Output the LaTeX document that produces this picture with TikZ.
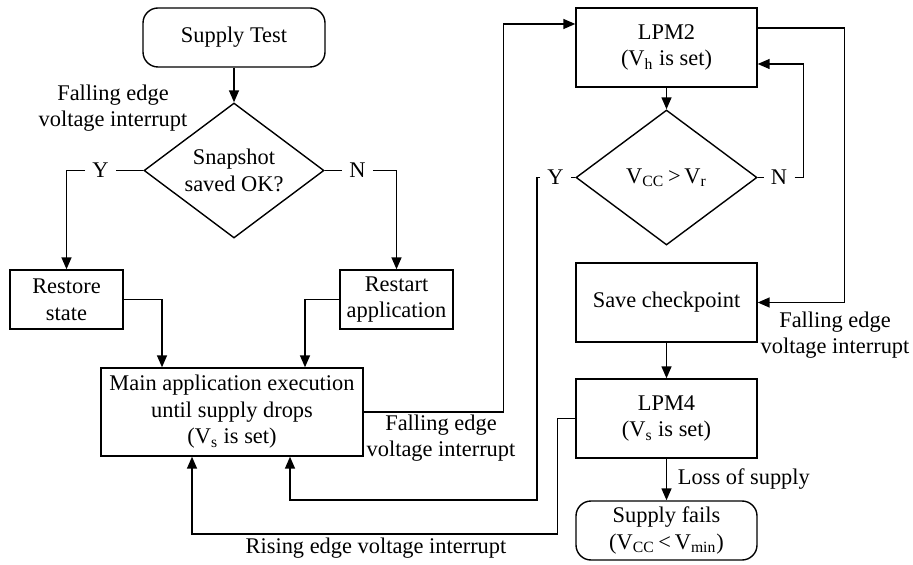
\documentclass[tikz,border=0pt]{standalone}
\usepackage{fontspec}
\setmainfont{Liberation Serif}
\usetikzlibrary{shapes.geometric,arrows.meta}

\begin{document}
\begin{tikzpicture}[x=0.5pt,y=-0.5pt,
    every node/.style={font=\fontsize{11.2}{13.3}\selectfont},
    box/.style={draw, line width=0.7pt, align=center, inner sep=2pt},
    term/.style={box, rounded corners=7.5pt, minimum width=90.5pt, minimum height=29.5pt},
    small/.style={box, minimum width=56.5pt, minimum height=29.5pt},
    lpm/.style={box, minimum width=90.5pt, minimum height=39.5pt},
    decision/.style={draw, line width=0.7pt, diamond, aspect=1.34, inner sep=0pt,
        align=center, minimum width=90pt, minimum height=67.5pt},
    flow/.style={line width=0.75pt},
    arrow/.style={flow, -{Triangle[length=6pt,width=5pt]}},
    yn/.style={inner sep=3.5pt},
    note/.style={align=center}
]
    \useasboundingbox (0,0) rectangle (913,565);

    % left column
    \node[term, minimum width=91pt] (test) at (234,37.5) {Supply Test};
    \node[decision] (snap) at (234,170.5) {Snapshot\\saved OK?};
    \node[small] (restore) at (66.5,299.5) {Restore\\state};
    \node[small] (restart) at (396.5,299.5) {Restart\\application};
    \node[box, minimum width=131pt, minimum height=44pt] (main) at (232,412)
        {Main application execution\\until supply drops\\(V\textsubscript{s} is set)};

    % right column
    \node[lpm] (lpm2) at (666.5,47.5) {LPM2\\(V\textsubscript{h} is set)};
    \node[decision, minimum width=90.5pt] (cmp) at (666.5,177.5)
        {V\textsubscript{CC}\,>\,V\textsubscript{r}};
    \node[lpm] (save) at (666.5,302.5) {Save checkpoint};
    \node[lpm] (lpm4) at (666.5,418.5) {LPM4\\(V\textsubscript{s} is set)};
    \node[term] (fails) at (666.5,530.5)
        {Supply fails\\(V\textsubscript{CC}\,<\,V\textsubscript{min})};

    % branch labels
    \node[yn] (y1) at (100.5,170.5) {Y};
    \node[yn] (n1) at (357.5,170.5) {N};
    \node[yn] (y2) at (555.5,177.5) {Y};
    \node[yn] (n2) at (779,177.5) {N};

    % interrupt notes
    \node[note] (fall1) at (113,108) {Falling edge\\voltage interrupt};
    \node[note] (fall2) at (441,438) {Falling edge\\voltage interrupt};
    \node[note] (fall3) at (835,335) {Falling edge\\voltage interrupt};
    \node[note] (rise) at (376,548) {Rising edge voltage interrupt};

    % connectors
    \draw[arrow] (test) -- (snap);
    \draw[flow] (snap.west) -- (y1);
    \draw[arrow] (y1) -| (restore);
    \draw[flow] (snap.east) -- (n1);
    \draw[arrow] (n1) -| (restart);
    \draw[arrow] (restore) -| ([xshift=-35pt]main.north);
    \draw[arrow] (restart) -| ([xshift=36.5pt]main.north);
    \draw[arrow] (main.east) -- ++(140,0) |- ([yshift=11.75pt]lpm2.west);
    \draw[arrow] (lpm2) -- (cmp);
    \draw[flow] (cmp.east) -- (n2);
    \draw[arrow] (n2.east) -- ++(9,0) |- ([yshift=-8.25pt]lpm2.east);
    \draw[arrow] ([yshift=9.75pt]lpm2.east) -- ++(87,0) |- (save.east);
    \draw[flow] (cmp.west) -- (y2);
    \draw[arrow] (y2.west) -- ++(-3,0) -- ++(0,322.5) -| ([xshift=29pt]main.south);
    \draw[arrow] (save) -- (lpm4);
    \draw[arrow] (lpm4.west) -- ++(-18,0) -- ++(0,115.5) -| ([xshift=-20pt]main.south);
    \draw[arrow] (lpm4) -- node[right=2pt] (loss) {Loss of supply} (fails);
\end{tikzpicture}
\end{document}
